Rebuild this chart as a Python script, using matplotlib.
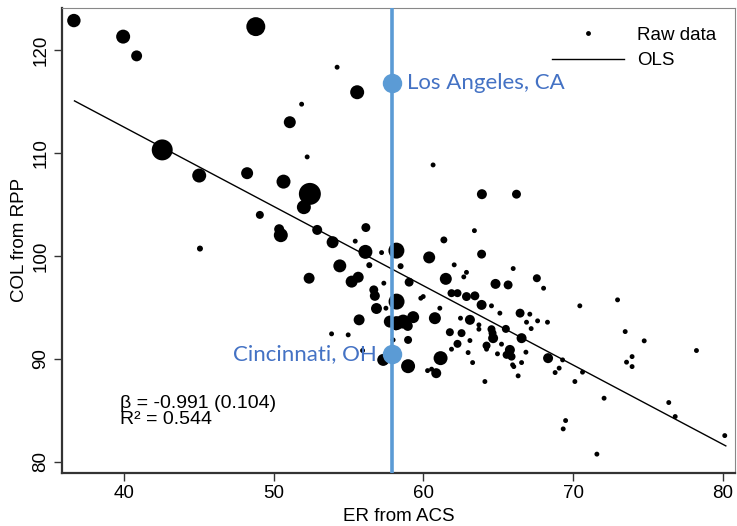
import matplotlib
matplotlib.use("Agg")
import matplotlib.pyplot as plt
from matplotlib.lines import Line2D
import numpy as np

# ER from ACS (x), COL from RPP (y), weight (marker area)
er_acs = [36.66, 39.95, 40.85, 48.81, 54.24, 55.58, 51.87, 51.08, 42.56, 52.24,
          45.03, 48.23, 50.66, 52.42, 52.02, 49.08, 50.37, 50.48, 52.91, 53.94,
          56.16, 55.45, 45.08, 56.13, 60.65, 63.91, 66.22, 63.41, 61.37, 63.89,
          60.39, 58.20, 57.21, 54.42, 56.39, 58.48, 62.06, 62.88, 62.70, 66.00,
          52.37, 55.21, 55.65, 57.36, 61.50, 59.05, 64.82, 65.66, 67.58, 68.03,
          56.69, 56.76, 59.99, 59.83, 61.88, 62.28, 62.88, 63.44, 58.21, 56.87,
          57.50, 61.10, 63.89, 64.55, 65.11, 66.46, 67.11, 67.63, 68.29, 66.89,
          67.20, 65.51, 55.71, 60.77, 59.32, 58.65, 58.21, 57.76, 58.96, 58.16,
          62.48, 63.11, 63.71, 63.71, 64.55, 64.62, 64.66, 61.77, 62.55, 63.11,
          66.56, 58.98, 57.98, 65.22, 64.22, 64.22, 62.28, 61.88, 65.78, 65.56,
          65.89, 66.85, 62.99, 64.95, 66.56, 65.96, 66.04, 63.29, 61.15, 60.86,
          60.55, 60.28, 58.98, 57.32, 68.33, 69.07, 68.80, 69.30, 70.63, 70.12,
          66.33, 64.11, 70.45, 72.97, 73.48, 74.75, 73.94, 73.57, 73.94, 78.24,
          72.07, 76.39, 76.82, 69.50, 69.34, 71.59, 80.13, 53.87, 54.98, 55.94]
col_rpp = [122.85, 121.29, 119.42, 122.26, 118.32, 115.89, 114.73, 112.98, 110.29, 109.61,
           107.80, 108.03, 107.21, 106.02, 104.73, 103.98, 102.59, 102.01, 102.52, 101.33,
           102.75, 101.43, 100.71, 100.39, 108.83, 105.99, 105.99, 102.45, 101.55, 100.17,
           99.85, 100.51, 100.32, 99.03, 99.10, 99.00, 99.13, 98.40, 97.96, 98.77,
           97.83, 97.50, 97.93, 97.35, 97.77, 97.45, 97.28, 97.18, 97.83, 96.86,
           96.70, 96.12, 96.05, 95.89, 96.38, 96.38, 96.05, 96.12, 95.56, 94.89,
           94.92, 94.92, 95.24, 95.15, 94.44, 94.44, 94.34, 93.69, 93.56, 93.56,
           92.94, 92.91, 93.79, 93.95, 94.05, 93.62, 93.47, 93.62, 93.20, 93.06,
           93.95, 93.79, 93.30, 92.88, 92.88, 92.50, 92.01, 92.59, 92.50, 91.78,
           92.01, 91.84, 91.84, 91.43, 91.29, 90.94, 91.46, 90.94, 90.87, 90.39,
           90.22, 90.65, 90.61, 90.49, 89.64, 89.42, 89.25, 89.64, 90.07, 88.61,
           89.00, 88.86, 89.29, 89.90, 90.07, 89.10, 88.67, 89.90, 88.71, 87.80,
           88.35, 87.80, 95.15, 95.73, 92.65, 91.75, 90.22, 89.68, 89.25, 90.81,
           86.18, 85.76, 84.40, 84.01, 83.20, 80.75, 82.55, 92.43, 92.33, 90.81]
weight = [45, 49, 30, 90, 6, 49, 6, 36, 110, 6,
          49, 36, 49, 121, 49, 16, 25, 49, 25, 36,
          20, 6, 9, 49, 6, 25, 20, 6, 12, 20,
          36, 64, 6, 42, 9, 9, 6, 6, 6, 6,
          30, 36, 30, 6, 36, 20, 25, 20, 16, 6,
          20, 25, 6, 6, 16, 16, 20, 20, 64, 30,
          6, 6, 25, 6, 6, 20, 6, 6, 6, 6,
          6, 16, 30, 36, 36, 49, 49, 36, 25, 9,
          6, 25, 6, 6, 16, 16, 25, 16, 16, 6,
          25, 16, 6, 6, 16, 6, 16, 6, 25, 16,
          16, 6, 6, 6, 6, 6, 6, 6, 49, 25,
          6, 6, 49, 36, 25, 6, 6, 6, 6, 6,
          6, 6, 6, 6, 6, 6, 6, 6, 6, 6,
          6, 6, 6, 6, 6, 6, 6, 6, 6, 6]

# fitted OLS line endpoints
ols_x = [36.7, 80.2]
ols_y = [115.05, 81.55]

# highlighted city
city_er = 57.9
cities = ["Los Angeles, CA", "Cincinnati, OH"]
city_col = [116.8, 90.5]

x_ticks = [40, 50, 60, 70, 80]
y_ticks = [80, 90, 100, 110, 120]

plt.rcParams["font.family"] = ["Liberation Sans", "DejaVu Sans"]
blue_line = "#5B9BD5"
blue_text = "#4472C4"

fig = plt.figure(figsize=(7.37, 5.26), dpi=100)
ax = fig.add_axes([0.084, 0.101, 0.913, 0.884])

ax.scatter(er_acs, col_rpp, s=np.array(weight) * 2.07, color="black", linewidths=0, zorder=2)
ax.plot(ols_x, ols_y, color="black", lw=1.0, zorder=3)

ax.axvline(city_er, color=blue_line, lw=2.6, zorder=4)
ax.plot([city_er] * 2, city_col, "o", color=blue_line, ms=14, mec="none", zorder=5)
ax.text(city_er + 1.0, city_col[0], cities[0], color=blue_text, fontsize=16,
        family=["Lato", "DejaVu Sans"], va="center", ha="left")
ax.text(city_er - 1.0, city_col[1], cities[1], color=blue_text, fontsize=16,
        family=["Lato", "DejaVu Sans"], va="center", ha="right")

ax.text(0.086, 0.132, "β = -0.991 (0.104)\nR² = 0.544", transform=ax.transAxes,
        fontsize=14, linespacing=0.92, va="center", ha="left")

handles = [Line2D([], [], ls="none", marker="o", ms=3.5, color="black", mec="none"),
           Line2D([], [], color="black", lw=1.0)]
ax.legend(handles, ["Raw data", "OLS"], loc="upper right", frameon=False, fontsize=13.5,
          handlelength=3.8, handletextpad=0.7, labelspacing=0.45,
          bbox_to_anchor=(1.0, 1.0), borderaxespad=0.6)

ax.set_xlim(35.86, 80.8)
ax.set_ylim(78.93, 124.08)
ax.set_xticks(x_ticks)
ax.set_yticks(y_ticks)
ax.tick_params(axis="both", labelsize=13.5, length=5.5, width=1.0, color="#333333", direction="out")
for lab in ax.get_yticklabels():
    lab.set_rotation(90)
    lab.set_va("center")

for side in ["left", "bottom"]:
    ax.spines[side].set_linewidth(1.6)
    ax.spines[side].set_color("#333333")
for side in ["top", "right"]:
    ax.spines[side].set_linewidth(0.8)
    ax.spines[side].set_color("#888888")

ax.set_xlabel("ER from ACS", fontsize=13.5, labelpad=4)
ax.set_ylabel("COL from RPP", fontsize=13.5, labelpad=3)

fig.savefig("out.png", dpi=100)
